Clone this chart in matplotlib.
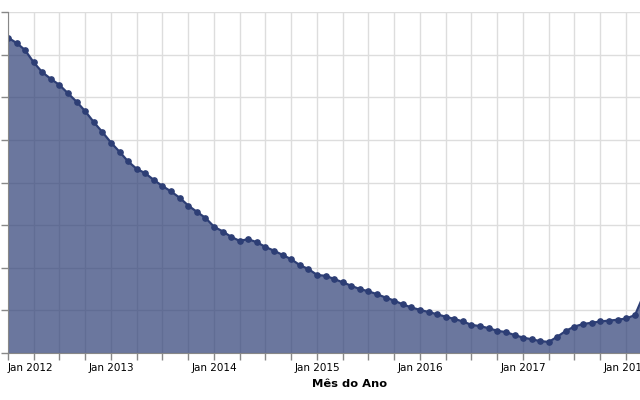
import matplotlib
matplotlib.use("Agg")
import matplotlib.pyplot as plt
import matplotlib.dates as mdates
import pandas as pd

# monthly values (y axis labels are cropped in the reference)
months = pd.date_range("2012-01-01", "2018-03-01", freq="MS")
values = [
    74.0, 72.7, 71.1, 68.2, 65.9, 64.3, 62.9, 60.9, 58.9, 56.7, 54.1, 51.8,
    49.3, 47.1, 45.0, 43.2, 42.2, 40.6, 39.2, 37.9, 36.4, 34.6, 33.1, 31.7,
    29.6, 28.5, 27.3, 26.3, 26.7, 26.0, 24.9, 24.0, 23.0, 22.0, 20.6, 19.7,
    18.3, 18.1, 17.4, 16.6, 15.8, 15.0, 14.5, 13.8, 13.0, 12.3, 11.4, 10.7,
    10.1, 9.6, 9.1, 8.5, 8.0, 7.4, 6.6, 6.3, 5.8, 5.2, 4.9, 4.2,
    3.6, 3.2, 2.8, 2.6, 3.8, 5.2, 6.2, 6.8, 7.1, 7.4, 7.6, 7.8,
    8.1, 8.9, 13.2,
]
x_title = "Mês do Ano"

line_color = "#2d3e75"
grid_color = "#dddddd"
axis_color = "#888888"

fig = plt.figure(figsize=(6.4, 4), dpi=100)
# axes runs off the right edge of the canvas, like the cropped reference
ax = fig.add_axes([8 / 640, 47 / 400, 684 / 640, 341 / 400])

ax.fill_between(months, values, 0, color=line_color, alpha=0.7, lw=0, zorder=2)
ax.plot(months, values, color=line_color, lw=1.6, marker="o", ms=3.8,
        mec=line_color, mfc=line_color, zorder=3)

ax.set_xlim(pd.Timestamp("2012-01-01"), pd.Timestamp("2018-08-22"))
ax.set_ylim(0, 80)
ax.set_yticks(range(0, 81, 10))
ax.tick_params(axis="y", labelleft=False, length=5, color=axis_color, width=1)

ax.xaxis.set_major_locator(mdates.YearLocator())
ax.xaxis.set_major_formatter(mdates.DateFormatter("Jan %Y"))
ax.xaxis.set_minor_locator(mdates.MonthLocator(bymonth=[4, 7, 10]))
ax.tick_params(axis="x", which="both", length=5, color=axis_color, width=1,
               labelsize=7.5, pad=2)
ax.get_xticklabels()[0].set_ha("left")

ax.grid(True, which="both", color=grid_color, lw=1, zorder=0)
ax.set_axisbelow(True)
for s in ["top", "right"]:
    ax.spines[s].set_visible(False)
for s in ["left", "bottom"]:
    ax.spines[s].set_color(axis_color)
    ax.spines[s].set_zorder(4)

fig.text(350 / 640, 1 - 384 / 400, x_title, ha="center", va="center",
         fontsize=8.25, fontweight="bold")

fig.savefig("out.png", dpi=100)
